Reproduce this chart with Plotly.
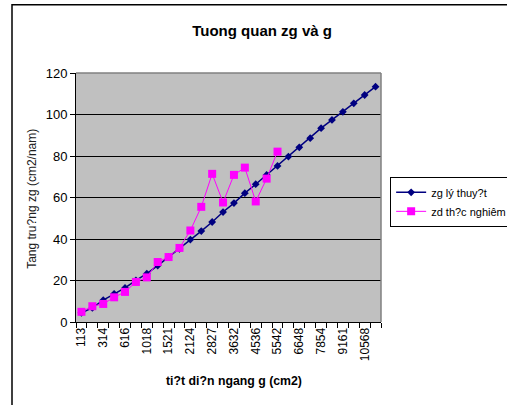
import plotly.graph_objects as go

# Cross-section area categories (cm2)
areas = ["113", "201", "314", "452", "616", "804", "1018", "1257", "1521", "1810",
         "2124", "2463", "2827", "3217", "3632", "4072", "4536", "5027", "5542", "6082",
         "6648", "7238", "7854", "8495", "9161", "9852", "10568", "11310"]

# Theoretical increment zg
zg_theory = [4.4, 6.8, 10.5, 13.6, 16.4, 20.1, 23.3, 27.2, 31.3, 35.2,
             39.7, 43.8, 48.2, 53.0, 57.3, 62.1, 66.4, 70.9, 75.2, 79.7,
             84.2, 88.6, 93.4, 97.4, 101.3, 105.4, 109.4, 113.4]

# Experimental increment zd (measured only for the first 19 categories)
zd_experiment = [4.9, 7.6, 8.7, 11.9, 14.5, 19.3, 21.5, 28.9, 31.3, 35.7,
                 44.1, 55.5, 71.4, 57.6, 70.9, 74.4, 58.1, 69.1, 82.1]

tick_text = [a if i % 2 == 0 else "" for i, a in enumerate(areas)]

FONT = "Liberation Sans, Arial, sans-serif"

fig = go.Figure()
fig.add_trace(go.Scatter(
    x=areas, y=zg_theory, name="zg lý thuy?t", mode="lines+markers",
    line=dict(color="#000080", width=1.5),
    marker=dict(symbol="diamond", size=6, color="#000080"),
))
fig.add_trace(go.Scatter(
    x=areas[:len(zd_experiment)], y=zd_experiment, name="zd th?c nghiêm",
    mode="lines+markers",
    line=dict(color="#FF00FF", width=1),
    marker=dict(symbol="square", size=8, color="#FF00FF"),
))

fig.update_layout(
    width=507, height=405,
    margin=dict(l=76, r=126, t=73, b=83, autoexpand=False),
    paper_bgcolor="white",
    plot_bgcolor="#C0C0C0",
    font=dict(family=FONT, color="black"),
    showlegend=True,
    legend=dict(
        x=1.03, y=0.583, xanchor="left", yanchor="top",
        bgcolor="white", bordercolor="black", borderwidth=1,
        font=dict(size=11, family=FONT), itemwidth=30,
        tracegroupgap=0,
    ),
    xaxis=dict(
        type="category", categoryorder="array", categoryarray=areas,
        range=[-0.5, len(areas) - 0.5],
        tickmode="array", tickvals=areas, ticktext=tick_text,
        tickson="boundaries", ticks="outside", ticklen=5, tickcolor="black",
        tickangle=-90, tickfont=dict(size=12, family=FONT),
        showline=True, linecolor="black", linewidth=1,
        showgrid=False, zeroline=False,
    ),
    yaxis=dict(
        range=[0, 120], dtick=20, tick0=0,
        ticks="outside", ticklen=5, tickcolor="black",
        tickfont=dict(size=13, family=FONT),
        showline=True, linecolor="black", linewidth=1,
        showgrid=True, gridcolor="black", gridwidth=1,
        zeroline=False,
    ),
    title=dict(
        text="<b>Tuong quan zg và g</b>", x=0.517, y=1 - 31 / 405,
        xanchor="center", yanchor="middle",
        font=dict(size=15, family=FONT, color="black"),
    ),
    annotations=[
        dict(text="Tang tru?ng zg (cm2/nam)", xref="paper", yref="paper",
             x=-0.144, y=0.495, textangle=-90, showarrow=False,
             xanchor="center", yanchor="middle",
             font=dict(size=12, family=FONT, color="#202020")),
        dict(text="<b>ti?t di?n ngang g (cm2)</b>", xref="paper", yref="paper",
             x=0.518, y=-0.238, showarrow=False,
             xanchor="center", yanchor="middle",
             font=dict(size=12.3, family=FONT, color="black")),
    ],
    shapes=[
        # gray top and right edges of the plot area
        dict(type="line", xref="paper", yref="paper", x0=0, x1=1, y0=1, y1=1,
             line=dict(color="#808080", width=1.5), layer="above"),
        dict(type="line", xref="paper", yref="paper", x0=1, x1=1, y0=0, y1=1,
             line=dict(color="#808080", width=1.5), layer="above"),
        # chart frame
        dict(type="rect", xref="paper", yref="paper",
             x0=(12 - 76) / 305, x1=2.0, y0=-1.0, y1=(322.5 - 4.5) / 249.5,
             line=dict(color="black", width=1.5), layer="above"),
    ],
)

fig.write_html("out.html")
